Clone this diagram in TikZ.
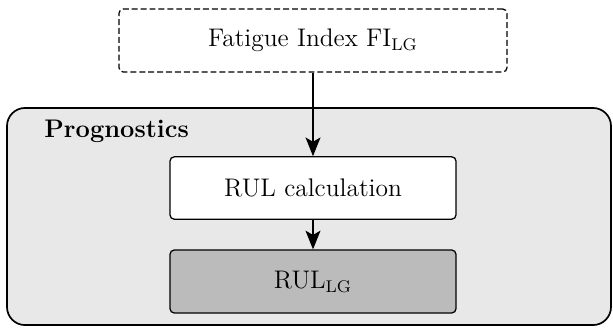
\documentclass[tikz,border=0pt]{standalone}
\usetikzlibrary{arrows.meta}
\definecolor{outerfill}{HTML}{E8E8E8}
\definecolor{resfill}{HTML}{BBBBBB}
\begin{document}
\begin{tikzpicture}[x=0.4717pt,y=-0.4717pt,
  every node/.style={font=\fontsize{12}{14.5}\selectfont},
  box/.style={draw, rectangle, rounded corners=2pt, line width=0.6pt, inner sep=0pt, minimum width=134.9pt, minimum height=29.4pt},
  conn/.style={line width=0.9pt, -{Stealth[length=8.8pt,width=7pt,inset=2pt]}}]
\useasboundingbox (0,0) rectangle (613,327);
\node[draw, rectangle, rounded corners=8.5pt, line width=0.8pt, fill=outerfill, inner sep=0pt, minimum width=284.9pt, minimum height=102.4pt] (prog) at (309,216.5) {};
\node[anchor=west, inner sep=0pt, font=\fontsize{12}{14.5}\selectfont\bfseries] (progl) at (44,131.5) {Prognostics};
\node[box, dash pattern=on 2.8pt off 1.4pt, minimum width=183pt, minimum height=29.7pt] (fi) at (313,40.5) {Fatigue Index FI$_{\mathrm{LG}}$};
\node[box, fill=white] (calc) at (313,188) {RUL calculation};
\node[box, fill=resfill, minimum height=29.7pt] (rul) at (313,281.5) {RUL$_{\mathrm{LG}}$};
\draw[conn] (fi) -- (calc);
\draw[conn] (calc) -- (rul);
\end{tikzpicture}
\end{document}
